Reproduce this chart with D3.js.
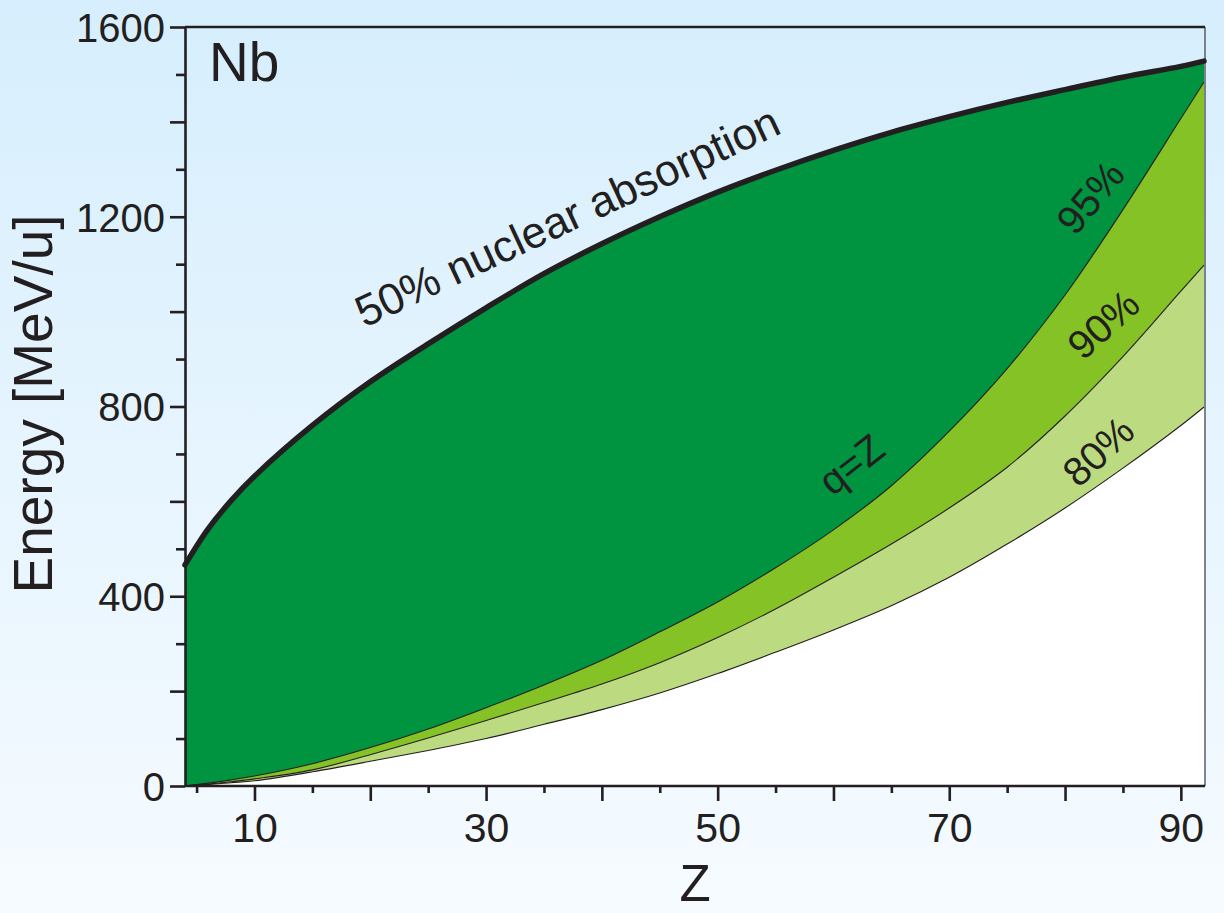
<!DOCTYPE html>
<html>
<head>
<meta charset="utf-8">
<script src="https://cdn.jsdelivr.net/npm/d3@7"></script>
<style>
  html, body { margin: 0; padding: 0; }
  body { width: 1224px; height: 913px; overflow: hidden; }
  svg { display: block; font-family: "Liberation Sans", Arial, Helvetica, sans-serif; }
</style>
</head>
<body>
<svg id="chart" width="1224" height="913"></svg>
<script>
// Atomic number of the projectile
const zValues = [4, 6, 8, 10, 15, 20, 25, 30, 35, 40, 45, 50, 55, 60, 65, 70, 75, 80, 85, 90, 92];
// Energy [MeV/u] where 50% of the ions are lost to nuclear absorption
const absorption50 = [466, 542, 602, 653, 760, 852, 932, 1008, 1080, 1143, 1200, 1252, 1298, 1340, 1378, 1411, 1441, 1468, 1494, 1517, 1528];
// Energy [MeV/u] for 95%, 90% and 80% bare ions (q = Z)
const bare95 = [0, 6, 13, 21, 47, 81, 120, 165, 213, 265, 325, 388, 460, 540, 633, 748, 880, 1035, 1215, 1407, 1484];
const bare90 = [0, 4, 9, 15, 34, 66, 101, 138, 176, 215, 260, 313, 373, 440, 510, 586, 672, 780, 905, 1043, 1098];
const bare80 = [0, 3, 7, 11, 30, 52, 75, 100, 130, 161, 196, 237, 282, 329, 380, 440, 510, 586, 670, 760, 799];

const xMajorTicks = [10, 20, 30, 40, 50, 60, 70, 80, 90];
const xMinorTicks = [5, 15, 25, 35, 45, 55, 65, 75, 85];
const xLabelTicks = [10, 30, 50, 70, 90];
const yMajorTicks = [0, 200, 400, 600, 800, 1000, 1200, 1400, 1600];
const yMinorTicks = [100, 300, 500, 700, 900, 1100, 1300, 1500];
const yLabelTicks = [0, 400, 800, 1200, 1600];

const ink = "#231f20";
const plotLeft = 185, plotRight = 1205, plotTop = 27, plotBottom = 786;

const svg = d3.select("#chart");

// page background: pale blue fading to near-white
const defs = svg.append("defs");
const grad = defs.append("linearGradient").attr("id", "bg").attr("x1", 0).attr("y1", 0).attr("x2", 0).attr("y2", 1);
grad.append("stop").attr("offset", "0%").attr("stop-color", "#d6eefd");
grad.append("stop").attr("offset", "100%").attr("stop-color", "#f6fbff");
svg.append("rect").attr("width", 1224).attr("height", 913).attr("fill", "url(#bg)");

defs.append("clipPath").attr("id", "plotClip")
  .append("rect").attr("x", plotLeft).attr("y", plotTop)
  .attr("width", plotRight - plotLeft).attr("height", plotBottom - plotTop);

const x = d3.scaleLinear().domain([4, 92]).range([plotLeft, plotRight - 1]);
const y = d3.scaleLinear().domain([0, 1600]).range([plotBottom, plotTop]);

const rows = zValues.map((z, i) => ({
  z, abs: absorption50[i], p95: bare95[i], p90: bare90[i], p80: bare80[i]
}));

const curve = d3.curveCatmullRom.alpha(0.5);
const band = (hi, lo) => d3.area().curve(curve)
  .x(d => x(d.z)).y0(d => y(lo(d))).y1(d => y(hi(d)));
const line = (f) => d3.line().curve(curve).x(d => x(d.z)).y(d => y(f(d)));

const plot = svg.append("g").attr("clip-path", "url(#plotClip)");

// bands between the curves
plot.append("path").datum(rows).attr("fill", "#ffffff")
  .attr("d", band(d => d.p80, () => 0));
plot.append("path").datum(rows).attr("fill", "#bcdb80")
  .attr("d", band(d => d.p90, d => d.p80));
plot.append("path").datum(rows).attr("fill", "#84c225")
  .attr("d", band(d => d.p95, d => d.p90));
plot.append("path").datum(rows).attr("fill", "#009340")
  .attr("d", band(d => d.abs, d => d.p95));

// thin boundary lines
[d => d.p95, d => d.p90, d => d.p80].forEach(f => {
  plot.append("path").datum(rows).attr("fill", "none")
    .attr("stroke", ink).attr("stroke-width", 1.1)
    .attr("d", line(f));
});

// frame: thin right edge, thick top edge
svg.append("line").attr("x1", plotRight).attr("x2", plotRight).attr("y1", plotTop).attr("y2", plotBottom)
  .attr("stroke", "#3a3a3a").attr("stroke-width", 1.2);
svg.append("line").attr("x1", plotLeft).attr("x2", plotRight).attr("y1", plotTop).attr("y2", plotTop)
  .attr("stroke", ink).attr("stroke-width", 2.6);

// 50% nuclear absorption limit (drawn over the frame)
svg.append("path").datum(rows).attr("fill", "none")
  .attr("stroke", ink).attr("stroke-width", 5.5).attr("stroke-linecap", "round")
  .attr("d", line(d => d.abs));

// axes
function styleAxis(g) {
  g.select(".domain").attr("stroke", ink).attr("stroke-width", 2.6);
  g.selectAll(".tick line").attr("stroke", ink).attr("stroke-width", 2.6);
  g.selectAll(".tick text").attr("fill", ink);
}

svg.append("g").attr("transform", `translate(0,${plotBottom})`)
  .call(d3.axisBottom(x).tickValues(xMinorTicks).tickSize(7).tickFormat(""))
  .call(g => { styleAxis(g); g.select(".domain").remove(); });
svg.append("g").attr("transform", `translate(0,${plotBottom})`)
  .call(d3.axisBottom(x).tickValues(xMajorTicks).tickSize(15).tickSizeOuter(0).tickPadding(12)
    .tickFormat(d => xLabelTicks.includes(d) ? d : ""))
  .call(g => g.selectAll(".tick text").attr("font-size", 41))
  .call(styleAxis)
  .call(g => g.select(".domain").attr("d", `M${plotLeft},0H${plotRight}`));

svg.append("g").attr("transform", `translate(${plotLeft},0)`)
  .call(d3.axisLeft(y).tickValues(yMinorTicks).tickSize(9).tickFormat(""))
  .call(g => { styleAxis(g); g.select(".domain").remove(); });
svg.append("g").attr("transform", `translate(${plotLeft},0)`)
  .call(d3.axisLeft(y).tickValues(yMajorTicks).tickSize(15).tickSizeOuter(0).tickPadding(5)
    .tickFormat(d => yLabelTicks.includes(d) ? d : ""))
  .call(g => g.selectAll(".tick text").attr("font-size", 40).attr("dy", "0.36em"))
  .call(styleAxis);

// axis titles
svg.append("text").attr("x", (plotLeft + plotRight) / 2).attr("y", 901)
  .attr("text-anchor", "middle").attr("font-size", 51).attr("fill", ink).text("Z");
svg.append("text").attr("transform", "translate(52,404) rotate(-90)")
  .attr("text-anchor", "middle").attr("font-size", 55).attr("fill", ink).text("Energy [MeV/u]");

// target label
svg.append("text").attr("x", 209).attr("y", 81)
  .attr("font-size", 55).attr("fill", ink).text("Nb");

// curve annotations
const notes = [
  { text: "50% nuclear absorption", cx: 567, cy: 216, angle: -25, size: 44 },
  { text: "95%", cx: 1090, cy: 197, angle: -50, size: 40 },
  { text: "90%", cx: 1103, cy: 324, angle: -42, size: 40 },
  { text: "80%", cx: 1098, cy: 451, angle: -43, size: 40 },
  { text: "q=Z", cx: 851, cy: 464, angle: -38, size: 40 }
];
notes.forEach(n => {
  svg.append("text")
    .attr("transform", `translate(${n.cx},${n.cy}) rotate(${n.angle})`)
    .attr("text-anchor", "middle").attr("dy", "0.36em")
    .attr("font-size", n.size).attr("fill", ink).text(n.text);
});
</script>
</body>
</html>
